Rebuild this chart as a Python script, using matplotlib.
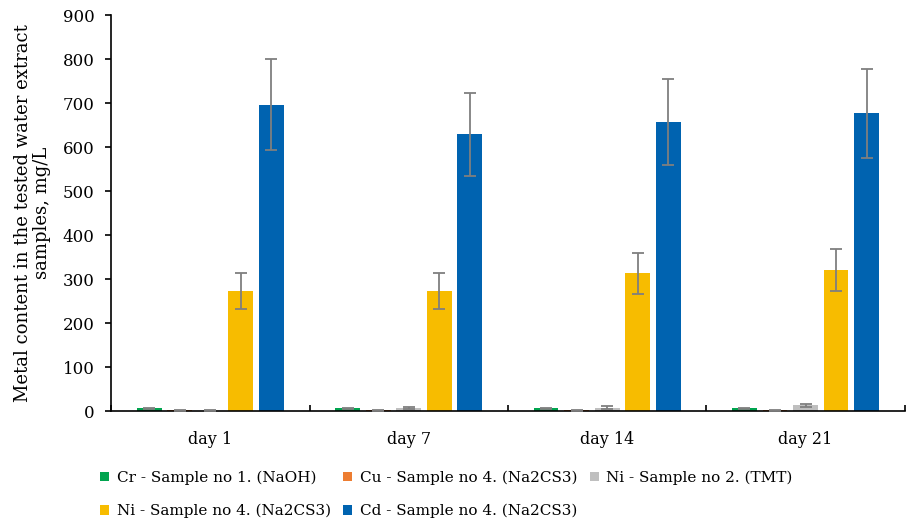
import numpy as np
import matplotlib
matplotlib.use("Agg")
import matplotlib.pyplot as plt
from matplotlib.ticker import FixedLocator, NullFormatter

plt.rcParams['font.family'] = ['DejaVu Serif']

# ------------------------------------------------------------------
# data
days = ["day 1", "day 7", "day 14", "day 21"]

series_names = [
    "Cr - Sample no 1. (NaOH)",
    "Cu - Sample no 4. (Na2CS3)",
    "Ni - Sample no 2. (TMT)",
    "Ni - Sample no 4. (Na2CS3)",
    "Cd - Sample no 4. (Na2CS3)",
]
cr_naoh = [6, 6, 6, 6]
cu_na2cs3 = [2, 2, 2, 2]
ni_tmt = [1, 7, 8, 13]
ni_na2cs3 = [272, 272, 313, 320]
cd_na2cs3 = [697, 629, 657, 677]

cr_err = [1.5, 1.5, 1.5, 1.5]
cu_err = [1, 1, 1, 1]
ni_tmt_err = [1, 2, 3, 3]
ni_na2cs3_err = [41, 41, 47, 48]
cd_err = [104, 94, 97, 101]

colors = ["#00a44f", "#ed7d31", "#bfbfbf", "#f7bc00", "#0063b0"]

# ------------------------------------------------------------------
values = [cr_naoh, cu_na2cs3, ni_tmt, ni_na2cs3, cd_na2cs3]
errors = [cr_err, cu_err, ni_tmt_err, ni_na2cs3_err, cd_err]

fig = plt.figure(figsize=(9.07, 5.25), dpi=100)
ax = fig.add_axes([0.1225, 0.217, 0.875, 0.754])

x = np.arange(len(days))
step = 0.154
width = 0.125
handles = []
for i, (vals, errs, name, col) in enumerate(zip(values, errors, series_names, colors)):
    offs = (i - 2) * step
    h = ax.bar(x + offs, vals, width=width, color=col, label=name, zorder=2)
    handles.append(h)
    ax.errorbar(x + offs, vals, yerr=errs, fmt="none", ecolor="#7f7f7f",
                elinewidth=1.3, capsize=4.5, capthick=1.3, zorder=3)

ax.set_xlim(-0.5, 3.5)
ax.set_ylim(0, 900)
ax.set_yticks(np.arange(0, 901, 100))
ax.set_xticks(x)
ax.set_xticklabels(days)
ax.xaxis.set_minor_locator(FixedLocator([-0.5, 0.5, 1.5, 2.5, 3.5]))
ax.xaxis.set_minor_formatter(NullFormatter())
ax.tick_params(axis="x", which="major", length=0, pad=14, labelsize=11.5)
ax.tick_params(axis="x", which="minor", direction="in", length=4, width=1.2)
ax.tick_params(axis="y", direction="out", length=4, width=1.2, labelsize=12, pad=8)

for s in ["top", "right"]:
    ax.spines[s].set_visible(False)
ax.spines["left"].set_linewidth(1.2)
ax.spines["bottom"].set_linewidth(1.2)

ax.set_ylabel("Metal content in the tested water extract\nsamples, mg/L", fontsize=13, labelpad=8,
              linespacing=1.1)

# legend reads row by row in the reference
order = [0, 3, 1, 4, 2]
fig.legend([handles[k] for k in order], [series_names[k] for k in order],
           loc="upper left", bbox_to_anchor=(0.095, 0.13), ncol=3, frameon=False,
           fontsize=11, handlelength=0.6, handleheight=0.6, handletextpad=0.5,
           columnspacing=0.8, labelspacing=1.25)

fig.savefig("out.png", dpi=100)
